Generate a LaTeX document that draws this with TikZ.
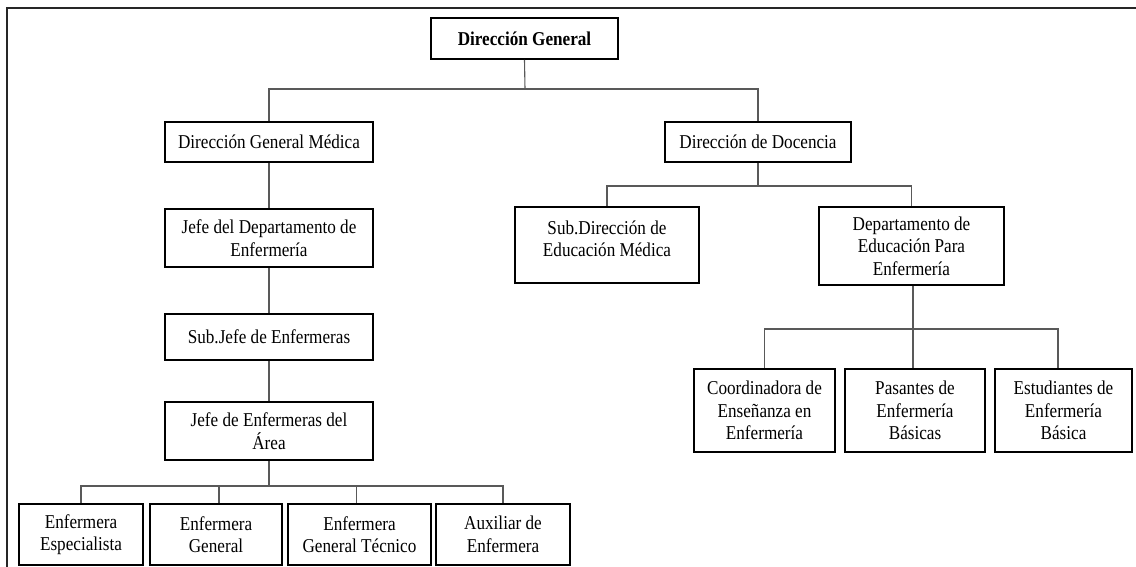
\documentclass[tikz,border=0pt]{standalone}
\usepackage{fontspec}
\usepackage{graphicx}
\setmainfont{Liberation Serif}
\newcommand{\sq}[1]{\scalebox{0.875}[1]{#1}}
\tikzset{
  orgbox/.style={draw=black, line width=1.8pt, rectangle, inner sep=0pt, align=center,
    font=\fontsize{19.6}{22.5}\selectfont},
  txt/.style={inner sep=0pt, align=center, font=\fontsize{19.6}{22.5}\selectfont},
  conn/.style={draw=black!65, line width=1.1pt},
  frame/.style={draw=black!85, line width=2.6pt}
}
\begin{document}
\begin{tikzpicture}[x=1pt,y=-1pt]
\useasboundingbox[fill=white] (0,0) rectangle (1136,567);
% frame lines
\coordinate (fTL) at (7,8);
\coordinate (fTR) at (1136,8);
\coordinate (fBL) at (7,567);
\draw[frame] (fTR) -- (fTL) -- (fBL);

% bus coordinates
\coordinate (bus1) at (525,89);
\coordinate (bus2) at (758,186);
\coordinate (bus3) at (269,486);
\coordinate (bus4) at (913,329);

% nodes
\node[orgbox, minimum width=187, minimum height=41, font=\fontsize{19.6}{22.5}\selectfont\bfseries] (dg) at (524.5,38.5) {\sq{Dirección General}};
\node[orgbox, minimum width=208, minimum height=40] (dgm) at (269,142) {\sq{Dirección General Médica}};
\node[orgbox, minimum width=186, minimum height=40] (doc) at (758,142) {\sq{Dirección de Docencia}};
\node[orgbox, minimum width=208, minimum height=58] (jdep) at (269,238) {\sq{Jefe del Departamento de}\\\sq{Enfermería}};
\node[orgbox, minimum width=208, minimum height=46] (sjefe) at (269,337) {\sq{Sub.Jefe de Enfermeras}};
\node[orgbox, minimum width=208, minimum height=58] (jarea) at (269,431) {\sq{Jefe de Enfermeras del}\\\sq{Área}};
\node[orgbox, minimum width=124, minimum height=61] (e1) at (81,534.5) {\sq{Enfermera}\\\sq{Especialista}};
\node[orgbox, minimum width=132, minimum height=61] (e2) at (216,534.5) {\sq{Enfermera}\\\sq{General}};
\node[orgbox, minimum width=143, minimum height=61] (e3) at (359.5,534.5) {\sq{Enfermera}\\\sq{General Técnico}};
\node[orgbox, minimum width=134, minimum height=61] (e4) at (503,534.5) {\sq{Auxiliar de}\\\sq{Enfermera}};
\node[orgbox, minimum width=184, minimum height=76] (subdir) at (607,245) {};
\node[txt] (subdirtext) at (607,239) {\sq{Sub.Dirección de}\\\sq{Educación Médica}};
\node[orgbox, minimum width=185, minimum height=78] (depto) at (911.5,246) {\sq{Departamento de}\\\sq{Educación Para}\\\sq{Enfermería}};
\node[orgbox, minimum width=141, minimum height=83] (coord) at (764.5,410.5) {\sq{Coordinadora de}\\\sq{Enseñanza en}\\\sq{Enfermería}};
\node[orgbox, minimum width=140, minimum height=83] (pas) at (915,410.5) {\sq{Pasantes de}\\\sq{Enfermería}\\\sq{Básicas}};
\node[orgbox, minimum width=137, minimum height=83] (est) at (1063.5,410.5) {\sq{Estudiantes de}\\\sq{Enfermería}\\\sq{Básica}};

\draw[conn] (dg.south) -- (bus1);
\draw[conn] (dgm.north) |- (bus1);
\draw[conn] (doc.north) |- (bus1);
\draw[conn] (dgm.south) -- (jdep.north);
\draw[conn] (jdep.south) -- (sjefe.north);
\draw[conn] (sjefe.south) -- (jarea.north);
\draw[conn] (jarea.south) -- (bus3);
\draw[conn] (e1.north) |- (bus3);
\draw[conn] ([xshift=3pt]e2.north) |- (bus3);
\draw[conn] ([xshift=-3pt]e3.north) |- (bus3);
\draw[conn] (e4.north) |- (bus3);
\draw[conn] (doc.south) -- (bus2);
\draw[conn] (subdir.north) |- (bus2);
\draw[conn] (depto.north) |- (bus2);
\draw[conn] ([xshift=1.5pt]depto.south) -- (bus4);
\draw[conn] (coord.north) |- (bus4);
\draw[conn] ([xshift=-2pt]pas.north) -- ++(0,-40);
\draw[conn] ([xshift=-5.5pt]est.north) |- (bus4);
\end{tikzpicture}
\end{document}
